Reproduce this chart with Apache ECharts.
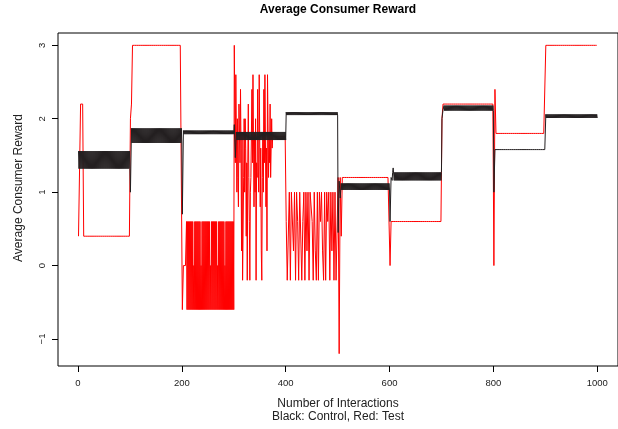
<!DOCTYPE html>
<html><head><meta charset="utf-8">
<script src="https://cdn.jsdelivr.net/npm/echarts@6/dist/echarts.min.js"></script>
<style>html,body{margin:0;padding:0;background:#fff}#c{width:618px;height:429px}</style>
</head><body><div id="c"></div>
<script>
// One value per interaction: x = 1, 2, ..., 1000
const FIRST_INTERACTION = 1;
const xTicks = [0, 200, 400, 600, 800, 1000];
const yTicks = [-1, 0, 1, 2, 3];

// Control (black) reward, one array per block of 100 interactions
const control000 = [
1.56,1.32,1.56,1.32,1.56,1.32,1.56,1.32,1.56,1.32,
1.56,1.32,1.56,1.32,1.56,1.32,1.56,1.32,1.56,1.32,
1.56,1.32,1.56,1.32,1.56,1.32,1.56,1.32,1.56,1.32,
1.56,1.32,1.56,1.32,1.56,1.32,1.56,1.32,1.56,1.32,
1.56,1.32,1.56,1.32,1.56,1.32,1.56,1.32,1.56,1.32,
1.56,1.32,1.56,1.32,1.56,1.32,1.56,1.32,1.56,1.32,
1.56,1.32,1.56,1.32,1.56,1.32,1.56,1.32,1.56,1.32,
1.56,1.32,1.56,1.32,1.56,1.32,1.56,1.32,1.56,1.32,
1.56,1.32,1.56,1.32,1.56,1.32,1.56,1.32,1.56,1.32,
1.56,1.32,1.56,1.32,1.56,1.32,1.56,1.32,1.56,1.32];
const control100 = [
1,1,1.87,1.67,1.87,1.67,1.87,1.67,1.87,1.67,
1.87,1.67,1.87,1.67,1.87,1.67,1.87,1.67,1.87,1.67,
1.87,1.67,1.87,1.67,1.87,1.67,1.87,1.67,1.87,1.67,
1.87,1.67,1.87,1.67,1.87,1.67,1.87,1.67,1.87,1.67,
1.87,1.67,1.87,1.67,1.87,1.67,1.87,1.67,1.87,1.67,
1.87,1.67,1.87,1.67,1.87,1.67,1.87,1.67,1.87,1.67,
1.87,1.67,1.87,1.67,1.87,1.67,1.87,1.67,1.87,1.67,
1.87,1.67,1.87,1.67,1.87,1.67,1.87,1.67,1.87,1.67,
1.87,1.67,1.87,1.67,1.87,1.67,1.87,1.67,1.87,1.67,
1.87,1.67,1.87,1.67,1.87,1.67,1.87,1.67,1.87,1.67];
const control200 = [
0.7,0.7,1.84,1.79,1.84,1.79,1.84,1.79,1.84,1.79,
1.84,1.79,1.84,1.79,1.84,1.79,1.84,1.79,1.84,1.79,
1.84,1.79,1.84,1.79,1.84,1.79,1.84,1.79,1.84,1.79,
1.84,1.79,1.84,1.79,1.84,1.79,1.84,1.79,1.84,1.79,
1.84,1.79,1.84,1.79,1.84,1.79,1.84,1.79,1.84,1.79,
1.84,1.79,1.84,1.79,1.84,1.79,1.84,1.79,1.84,1.79,
1.84,1.79,1.84,1.79,1.84,1.79,1.84,1.79,1.84,1.79,
1.84,1.79,1.84,1.79,1.84,1.79,1.84,1.79,1.84,1.79,
1.84,1.79,1.84,1.79,1.84,1.79,1.84,1.79,1.84,1.79,
1.84,1.79,1.84,1.79,1.84,1.79,1.84,1.79,1.84,1.79];
const control300 = [
1.92,1.92,1.47,1.47,1.82,1.71,1.82,1.71,1.82,1.71,
1.82,1.71,1.82,1.71,1.82,1.71,1.82,1.71,1.82,1.71,
1.82,1.71,1.82,1.71,1.82,1.71,1.82,1.71,1.82,1.71,
1.82,1.71,1.82,1.71,1.82,1.71,1.82,1.71,1.82,1.71,
1.82,1.71,1.82,1.71,1.82,1.71,1.82,1.71,1.82,1.71,
1.82,1.71,1.82,1.71,1.82,1.71,1.82,1.71,1.82,1.71,
1.82,1.71,1.82,1.71,1.82,1.71,1.82,1.71,1.82,1.71,
1.82,1.71,1.82,1.71,1.82,1.71,1.82,1.71,1.82,1.71,
1.82,1.71,1.82,1.71,1.82,1.71,1.82,1.71,1.82,1.71,
1.82,1.71,1.82,1.71,1.82,1.71,1.82,1.71,1.82,1.71];
const control400 = [
2.09,2.05,2.09,2.05,2.09,2.05,2.09,2.05,2.09,2.05,
2.09,2.05,2.09,2.05,2.09,2.05,2.09,2.05,2.09,2.05,
2.09,2.05,2.09,2.05,2.09,2.05,2.09,2.05,2.09,2.05,
2.09,2.05,2.09,2.05,2.09,2.05,2.09,2.05,2.09,2.05,
2.09,2.05,2.09,2.05,2.09,2.05,2.09,2.05,2.09,2.05,
2.09,2.05,2.09,2.05,2.09,2.05,2.09,2.05,2.09,2.05,
2.09,2.05,2.09,2.05,2.09,2.05,2.09,2.05,2.09,2.05,
2.09,2.05,2.09,2.05,2.09,2.05,2.09,2.05,2.09,2.05,
2.09,2.05,2.09,2.05,2.09,2.05,2.09,2.05,2.09,2.05,
2.09,2.05,2.09,2.05,2.09,2.05,2.09,2.05,2.09,2.05];
const control500 = [
0.45,0.45,1.15,1.15,0.92,0.92,1.12,1.03,1.12,1.03,
1.12,1.03,1.12,1.03,1.12,1.03,1.12,1.03,1.12,1.03,
1.12,1.03,1.12,1.03,1.12,1.03,1.12,1.03,1.12,1.03,
1.12,1.03,1.12,1.03,1.12,1.03,1.12,1.03,1.12,1.03,
1.12,1.03,1.12,1.03,1.12,1.03,1.12,1.03,1.12,1.03,
1.12,1.03,1.12,1.03,1.12,1.03,1.12,1.03,1.12,1.03,
1.12,1.03,1.12,1.03,1.12,1.03,1.12,1.03,1.12,1.03,
1.12,1.03,1.12,1.03,1.12,1.03,1.12,1.03,1.12,1.03,
1.12,1.03,1.12,1.03,1.12,1.03,1.12,1.03,1.12,1.03,
1.12,1.03,1.12,1.03,1.12,1.03,1.12,1.03,1.12,1.03];
const control600 = [
0.6,0.6,1.2,1.2,1.16,1.27,1.33,1.33,1.16,1.27,
1.16,1.27,1.16,1.27,1.16,1.27,1.16,1.27,1.16,1.27,
1.16,1.27,1.16,1.27,1.16,1.27,1.16,1.27,1.16,1.27,
1.16,1.27,1.16,1.27,1.16,1.27,1.16,1.27,1.16,1.27,
1.16,1.27,1.16,1.27,1.16,1.27,1.16,1.27,1.16,1.27,
1.16,1.27,1.16,1.27,1.16,1.27,1.16,1.27,1.16,1.27,
1.16,1.27,1.16,1.27,1.16,1.27,1.16,1.27,1.16,1.27,
1.16,1.27,1.16,1.27,1.16,1.27,1.16,1.27,1.16,1.27,
1.16,1.27,1.16,1.27,1.16,1.27,1.16,1.27,1.16,1.27,
1.16,1.27,1.16,1.27,1.16,1.27,1.16,1.27,1.16,1.27];
const control700 = [
2,2,2.12,2.12,2.18,2.11,2.18,2.11,2.18,2.11,
2.18,2.11,2.18,2.11,2.18,2.11,2.18,2.11,2.18,2.11,
2.18,2.11,2.18,2.11,2.18,2.11,2.18,2.11,2.18,2.11,
2.18,2.11,2.18,2.11,2.18,2.11,2.18,2.11,2.18,2.11,
2.18,2.11,2.18,2.11,2.18,2.11,2.18,2.11,2.18,2.11,
2.18,2.11,2.18,2.11,2.18,2.11,2.18,2.11,2.18,2.11,
2.18,2.11,2.18,2.11,2.18,2.11,2.18,2.11,2.18,2.11,
2.18,2.11,2.18,2.11,2.18,2.11,2.18,2.11,2.18,2.11,
2.18,2.11,2.18,2.11,2.18,2.11,2.18,2.11,2.18,2.11,
2.18,2.11,2.18,2.11,2.18,2.11,2.18,2.11,2.18,2.11];
const control800 = [
1,1,1.58,1.58,1.58,1.58,1.58,1.58,1.58,1.58,
1.58,1.58,1.58,1.58,1.58,1.58,1.58,1.58,1.58,1.58,
1.58,1.58,1.58,1.58,1.58,1.58,1.58,1.58,1.58,1.58,
1.58,1.58,1.58,1.58,1.58,1.58,1.58,1.58,1.58,1.58,
1.58,1.58,1.58,1.58,1.58,1.58,1.58,1.58,1.58,1.58,
1.58,1.58,1.58,1.58,1.58,1.58,1.58,1.58,1.58,1.58,
1.58,1.58,1.58,1.58,1.58,1.58,1.58,1.58,1.58,1.58,
1.58,1.58,1.58,1.58,1.58,1.58,1.58,1.58,1.58,1.58,
1.58,1.58,1.58,1.58,1.58,1.58,1.58,1.58,1.58,1.58,
1.58,1.58,1.58,1.58,1.58,1.58,1.58,1.58,1.58,1.58];
const control900 = [
2.06,2.01,2.06,2.01,2.06,2.01,2.06,2.01,2.06,2.01,
2.06,2.01,2.06,2.01,2.06,2.01,2.06,2.01,2.06,2.01,
2.06,2.01,2.06,2.01,2.06,2.01,2.06,2.01,2.06,2.01,
2.06,2.01,2.06,2.01,2.06,2.01,2.06,2.01,2.06,2.01,
2.06,2.01,2.06,2.01,2.06,2.01,2.06,2.01,2.06,2.01,
2.06,2.01,2.06,2.01,2.06,2.01,2.06,2.01,2.06,2.01,
2.06,2.01,2.06,2.01,2.06,2.01,2.06,2.01,2.06,2.01,
2.06,2.01,2.06,2.01,2.06,2.01,2.06,2.01,2.06,2.01,
2.06,2.01,2.06,2.01,2.06,2.01,2.06,2.01,2.06,2.01,
2.06,2.01,2.06,2.01,2.06,2.01,2.06,2.01,2.06,2.01];

// Test (red) reward, one array per block of 100 interactions
const test000 = [
0.4,0.4,0.4,0.4,2.2,2.2,2.2,2.2,2.2,2.2,
0.4,0.4,0.4,0.4,0.4,0.4,0.4,0.4,0.4,0.4,
0.4,0.4,0.4,0.4,0.4,0.4,0.4,0.4,0.4,0.4,
0.4,0.4,0.4,0.4,0.4,0.4,0.4,0.4,0.4,0.4,
0.4,0.4,0.4,0.4,0.4,0.4,0.4,0.4,0.4,0.4,
0.4,0.4,0.4,0.4,0.4,0.4,0.4,0.4,0.4,0.4,
0.4,0.4,0.4,0.4,0.4,0.4,0.4,0.4,0.4,0.4,
0.4,0.4,0.4,0.4,0.4,0.4,0.4,0.4,0.4,0.4,
0.4,0.4,0.4,0.4,0.4,0.4,0.4,0.4,0.4,0.4,
0.4,0.4,0.4,0.4,0.4,0.4,0.4,0.4,0.4,0.4];
const test100 = [
2,2,2.2,2.2,3,3,3,3,3,3,
3,3,3,3,3,3,3,3,3,3,
3,3,3,3,3,3,3,3,3,3,
3,3,3,3,3,3,3,3,3,3,
3,3,3,3,3,3,3,3,3,3,
3,3,3,3,3,3,3,3,3,3,
3,3,3,3,3,3,3,3,3,3,
3,3,3,3,3,3,3,3,3,3,
3,3,3,3,3,3,3,3,3,3,
3,3,3,3,3,3,3,3,3,3];
const test200 = [
-0.6,-0.6,0,0,0,0,0,0,0.6,-0.6,
0.6,-0.6,0.6,-0.6,0.6,-0.6,0.6,-0.6,0.6,-0.6,
0.6,-0.6,0,-0.6,0.6,-0.6,0.6,-0.6,0.6,-0.6,
0.6,-0.6,0.6,-0.6,0.6,-0.6,0,-0.6,0.6,-0.6,
0.6,-0.6,0.6,-0.6,0.6,-0.6,0.6,-0.6,0.6,-0.6,
0.6,-0.6,0.6,-0.6,0,-0.6,0.6,-0.6,0.6,-0.6,
0.6,-0.6,0.6,-0.6,0.6,-0.6,0.6,-0.6,0,-0.6,
0.6,-0.6,0.6,-0.6,0.6,-0.6,0.6,-0.6,0.6,-0.6,
0.6,-0.6,0,-0.6,0.6,-0.6,0.6,-0.6,0.6,-0.6,
0.6,-0.6,0.6,-0.6,0.6,-0.6,0.6,-0.6,0.6,-0.6];
const test300 = [
3,3,1.4,2.6,2.6,1,2,1.2,0.8,2.2,
2.2,1.4,2.4,1.6,0.2,1.8,-0.2,-0.2,1.2,2,
1,2,1.6,0.4,1.4,-0.2,1.4,2.2,1.2,0.6,
-0.2,1,1.2,1.8,2.4,1.4,2.6,2.6,0.8,1.8,
1,2,-0.2,1.4,1.2,2.4,1.4,1,2.6,2.6,
0.8,1.6,0.2,-0.2,1.2,1.8,1,2.4,1.4,2.6,
2.6,0.8,1.6,0.2,2.6,2.6,1.2,1.8,1.4,2.2,
1.2,1.6,2,1.6,1.76,1.76,1.76,1.76,1.76,1.76,
1.76,1.76,1.76,1.76,1.76,1.76,1.76,1.76,1.76,1.76,
1.76,1.76,1.76,1.76,1.76,1.76,1.76,1.76,1.76,1.76];
const test400 = [
0.6,0.6,-0.2,-0.2,-0.2,-0.2,1,1,-0.2,-0.2,
1,1,1,1,0.2,0.2,1,1,-0.2,-0.2,
1,1,0.6,0.6,-0.2,-0.2,1,1,1,1,
-0.2,-0.2,0.6,0.6,1,1,-0.2,-0.2,1,1,
0.2,0.2,1,1,-0.2,-0.2,1,1,1,1,
0.6,0.6,-0.2,-0.2,1,1,0.2,0.2,-0.2,-0.2,
1,1,-0.2,-0.2,1,1,0.6,0.6,1,1,
0.2,0.2,-0.2,-0.2,1,1,-0.2,-0.2,1,1,
0.6,0.6,1,1,-0.2,-0.2,1,1,0.2,0.2,
1,1,-0.2,-0.2,1,1,-0.2,-0.2,-0.2,-0.2];
const test500 = [
1.2,1.2,-1.2,-1.2,1.2,1.2,0.4,0.4,1.2,1.2,
1.2,1.2,1.2,1.2,1.2,1.2,1.2,1.2,1.2,1.2,
1.2,1.2,1.2,1.2,1.2,1.2,1.2,1.2,1.2,1.2,
1.2,1.2,1.2,1.2,1.2,1.2,1.2,1.2,1.2,1.2,
1.2,1.2,1.2,1.2,1.2,1.2,1.2,1.2,1.2,1.2,
1.2,1.2,1.2,1.2,1.2,1.2,1.2,1.2,1.2,1.2,
1.2,1.2,1.2,1.2,1.2,1.2,1.2,1.2,1.2,1.2,
1.2,1.2,1.2,1.2,1.2,1.2,1.2,1.2,1.2,1.2,
1.2,1.2,1.2,1.2,1.2,1.2,1.2,1.2,1.2,1.2,
1.2,1.2,1.2,1.2,1.2,1.2,1.2,1.2,1.2,1.2];
const test600 = [
0,0,0.6,0.6,0.6,0.6,0.6,0.6,0.6,0.6,
0.6,0.6,0.6,0.6,0.6,0.6,0.6,0.6,0.6,0.6,
0.6,0.6,0.6,0.6,0.6,0.6,0.6,0.6,0.6,0.6,
0.6,0.6,0.6,0.6,0.6,0.6,0.6,0.6,0.6,0.6,
0.6,0.6,0.6,0.6,0.6,0.6,0.6,0.6,0.6,0.6,
0.6,0.6,0.6,0.6,0.6,0.6,0.6,0.6,0.6,0.6,
0.6,0.6,0.6,0.6,0.6,0.6,0.6,0.6,0.6,0.6,
0.6,0.6,0.6,0.6,0.6,0.6,0.6,0.6,0.6,0.6,
0.6,0.6,0.6,0.6,0.6,0.6,0.6,0.6,0.6,0.6,
0.6,0.6,0.6,0.6,0.6,0.6,0.6,0.6,0.6,0.6];
const test700 = [
2,2,2.2,2.2,2.2,2.2,2.2,2.2,2.2,2.2,
2.2,2.2,2.2,2.2,2.2,2.2,2.2,2.2,2.2,2.2,
2.2,2.2,2.2,2.2,2.2,2.2,2.2,2.2,2.2,2.2,
2.2,2.2,2.2,2.2,2.2,2.2,2.2,2.2,2.2,2.2,
2.2,2.2,2.2,2.2,2.2,2.2,2.2,2.2,2.2,2.2,
2.2,2.2,2.2,2.2,2.2,2.2,2.2,2.2,2.2,2.2,
2.2,2.2,2.2,2.2,2.2,2.2,2.2,2.2,2.2,2.2,
2.2,2.2,2.2,2.2,2.2,2.2,2.2,2.2,2.2,2.2,
2.2,2.2,2.2,2.2,2.2,2.2,2.2,2.2,2.2,2.2,
2.2,2.2,2.2,2.2,2.2,2.2,2.2,2.2,2.2,2.2];
const test800 = [
0,0,2.4,2.4,1.8,1.8,1.8,1.8,1.8,1.8,
1.8,1.8,1.8,1.8,1.8,1.8,1.8,1.8,1.8,1.8,
1.8,1.8,1.8,1.8,1.8,1.8,1.8,1.8,1.8,1.8,
1.8,1.8,1.8,1.8,1.8,1.8,1.8,1.8,1.8,1.8,
1.8,1.8,1.8,1.8,1.8,1.8,1.8,1.8,1.8,1.8,
1.8,1.8,1.8,1.8,1.8,1.8,1.8,1.8,1.8,1.8,
1.8,1.8,1.8,1.8,1.8,1.8,1.8,1.8,1.8,1.8,
1.8,1.8,1.8,1.8,1.8,1.8,1.8,1.8,1.8,1.8,
1.8,1.8,1.8,1.8,1.8,1.8,1.8,1.8,1.8,1.8,
1.8,1.8,1.8,1.8,1.8,1.8,1.8,1.8,1.8,1.8];
const test900 = [
3,3,3,3,3,3,3,3,3,3,
3,3,3,3,3,3,3,3,3,3,
3,3,3,3,3,3,3,3,3,3,
3,3,3,3,3,3,3,3,3,3,
3,3,3,3,3,3,3,3,3,3,
3,3,3,3,3,3,3,3,3,3,
3,3,3,3,3,3,3,3,3,3,
3,3,3,3,3,3,3,3,3,3,
3,3,3,3,3,3,3,3,3,3,
3,3,3,3,3,3,3,3,3,3];

const control = [].concat(control000, control100, control200, control300, control400,
  control500, control600, control700, control800, control900);
const test = [].concat(test000, test100, test200, test300, test400,
  test500, test600, test700, test800, test900);
const toPoints = arr => arr.map((v, i) => [FIRST_INTERACTION + i, v]);

const FONT = '"Liberation Sans", Arial, Helvetica, sans-serif';
const chart = echarts.init(document.getElementById('c'), null, {renderer: 'canvas'});
chart.setOption({
  animation: false,
  backgroundColor: '#ffffff',
  grid: {left: 58, top: 33, width: 561, height: 333, show: true,
         borderColor: '#000', borderWidth: 1, backgroundColor: 'transparent', containLabel: false},
  xAxis: {
    type: 'value', min: -38.5, max: 1040,
    axisLine: {show: false, onZero: false}, splitLine: {show: false},
    axisTick: {show: true, customValues: xTicks, length: 6, lineStyle: {color: '#000', width: 1}},
    axisLabel: {customValues: xTicks, margin: 12, fontSize: 9.5, color: '#222', fontFamily: FONT,
      formatter: v => String(v)}
  },
  yAxis: {
    type: 'value', min: -1.368, max: 3.168,
    axisLine: {show: false, onZero: false}, splitLine: {show: false},
    axisTick: {show: true, customValues: yTicks, length: 6, lineStyle: {color: '#000', width: 1}},
    axisLabel: {customValues: yTicks, rotate: 90, margin: 11, fontSize: 9.5, color: '#222', fontFamily: FONT,
      formatter: v => String(v).replace('-', '\u2212')}
  },
  graphic: [
    {type: 'text', x: 338, y: 10, silent: true,
     style: {text: 'Average Consumer Reward', font: 'bold 12px ' + FONT, fill: '#000',
             align: 'center', verticalAlign: 'middle'}},
    {type: 'text', x: 338, y: 404, silent: true,
     style: {text: 'Number of Interactions', font: '12px ' + FONT, fill: '#222',
             align: 'center', verticalAlign: 'middle'}},
    {type: 'text', x: 338, y: 417, silent: true,
     style: {text: 'Black: Control, Red: Test', font: '12px ' + FONT, fill: '#222',
             align: 'center', verticalAlign: 'middle'}},
    {type: 'text', x: 19, y: 188, rotation: Math.PI / 2, silent: true,
     style: {text: 'Average Consumer Reward', font: '12px ' + FONT, fill: '#222',
             align: 'center', verticalAlign: 'middle'}}
  ],
  series: [
    {name: 'Test', type: 'line', data: toPoints(test), symbol: 'none', silent: true,
     lineStyle: {color: '#ff0000', width: 1}, z: 2},
    {name: 'Control', type: 'line', data: toPoints(control), symbol: 'none', silent: true,
     lineStyle: {color: '#231f20', width: 1}, z: 3}
  ]
});
</script></body></html>
